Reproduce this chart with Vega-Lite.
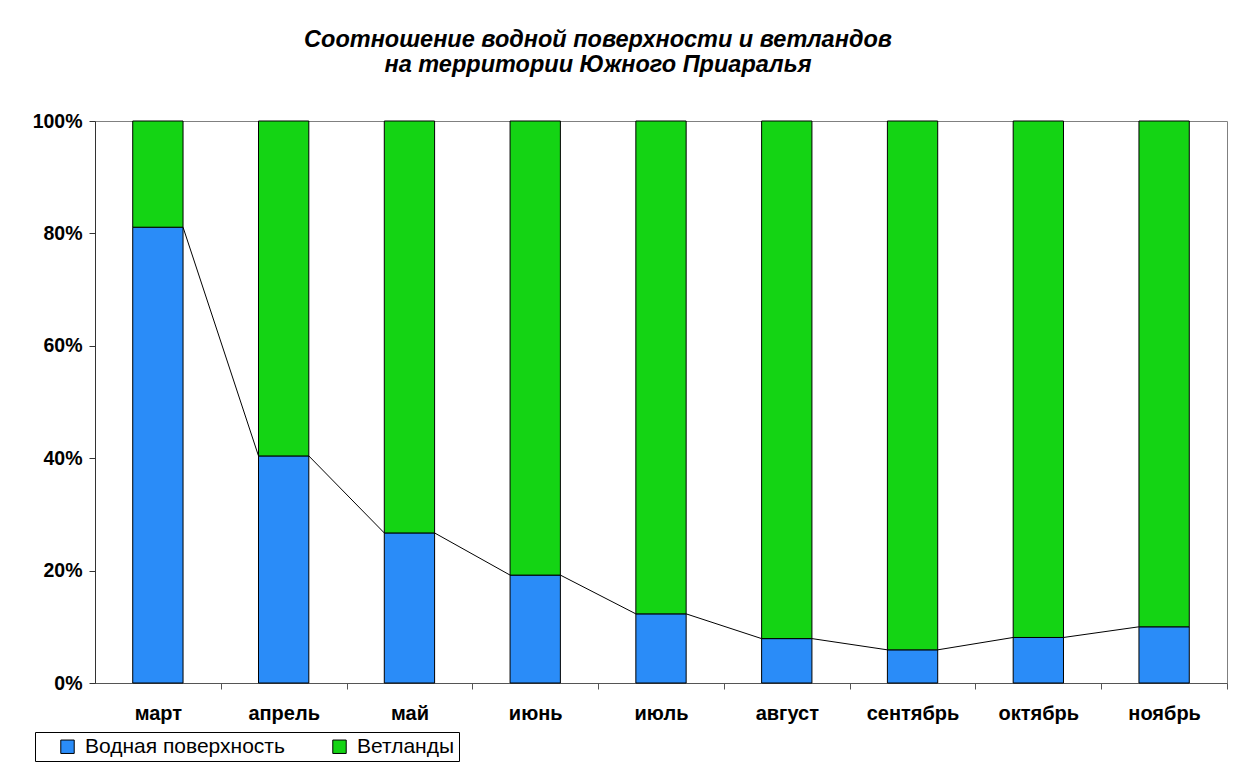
{
  "$schema": "https://vega.github.io/schema/vega-lite/v6.json",
  "width": 1132,
  "height": 562,
  "autosize": {"type": "none"},
  "padding": {"left": 95, "top": 121, "right": 8, "bottom": 82},
  "background": "white",
  "title": {
    "text": ["Соотношение водной поверхности и ветландов", "на территории Южного Приаралья"],
    "font": "Liberation Sans",
    "fontSize": 23.5,
    "fontStyle": "italic",
    "fontWeight": "bold",
    "color": "black",
    "lineHeight": 25,
    "offset": 35,
    "dx": -63
  },
  "datasets": {
    "bars": [
      {"month": "март", "series": "Водная поверхность", "ord": 1, "value": 0.811},
      {"month": "март", "series": "Ветланды", "ord": 2, "value": 0.189},
      {"month": "апрель", "series": "Водная поверхность", "ord": 1, "value": 0.404},
      {"month": "апрель", "series": "Ветланды", "ord": 2, "value": 0.596},
      {"month": "май", "series": "Водная поверхность", "ord": 1, "value": 0.267},
      {"month": "май", "series": "Ветланды", "ord": 2, "value": 0.733},
      {"month": "июнь", "series": "Водная поверхность", "ord": 1, "value": 0.192},
      {"month": "июнь", "series": "Ветланды", "ord": 2, "value": 0.808},
      {"month": "июль", "series": "Водная поверхность", "ord": 1, "value": 0.123},
      {"month": "июль", "series": "Ветланды", "ord": 2, "value": 0.877},
      {"month": "август", "series": "Водная поверхность", "ord": 1, "value": 0.079},
      {"month": "август", "series": "Ветланды", "ord": 2, "value": 0.921},
      {"month": "сентябрь", "series": "Водная поверхность", "ord": 1, "value": 0.059},
      {"month": "сентябрь", "series": "Ветланды", "ord": 2, "value": 0.941},
      {"month": "октябрь", "series": "Водная поверхность", "ord": 1, "value": 0.081},
      {"month": "октябрь", "series": "Ветланды", "ord": 2, "value": 0.919},
      {"month": "ноябрь", "series": "Водная поверхность", "ord": 1, "value": 0.100},
      {"month": "ноябрь", "series": "Ветланды", "ord": 2, "value": 0.900}
    ],
    "links": [
      {"from": "март", "to": "апрель", "y1": 0.811, "y2": 0.404},
      {"from": "апрель", "to": "май", "y1": 0.404, "y2": 0.267},
      {"from": "май", "to": "июнь", "y1": 0.267, "y2": 0.192},
      {"from": "июнь", "to": "июль", "y1": 0.192, "y2": 0.123},
      {"from": "июль", "to": "август", "y1": 0.123, "y2": 0.079},
      {"from": "август", "to": "сентябрь", "y1": 0.079, "y2": 0.059},
      {"from": "сентябрь", "to": "октябрь", "y1": 0.059, "y2": 0.081},
      {"from": "октябрь", "to": "ноябрь", "y1": 0.081, "y2": 0.100}
    ]
  },
  "layer": [
    {
      "data": {"name": "bars"},
      "mark": {"type": "bar", "stroke": "black", "strokeWidth": 1},
      "encoding": {
        "x": {
          "field": "month", "type": "nominal", "sort": null,
          "scale": {"paddingInner": 0.6, "paddingOuter": 0.3},
          "axis": {
            "title": null, "labelAngle": 0, "labelFont": "Liberation Sans", "labelFontSize": 20,
            "labelFontWeight": "bold", "labelColor": "black", "labelPadding": 14,
            "tickOffset": 62.9, "labelOffset": -62.9, "tickSize": 6, "tickColor": "#555", "domainColor": "#555"
          }
        },
        "y": {
          "field": "value", "type": "quantitative", "stack": "zero",
          "scale": {"domain": [0, 1], "nice": false},
          "axis": {
            "title": null, "format": ".0%", "values": [0, 0.2, 0.4, 0.6, 0.8, 1],
            "grid": false, "labelFont": "Liberation Sans", "labelFontSize": 19.5,
            "labelFontWeight": "bold", "labelColor": "black", "labelPadding": 7,
            "tickSize": 6, "tickColor": "#333", "domainColor": "#333"
          }
        },
        "order": {"field": "ord", "type": "quantitative"},
        "color": {
          "field": "series", "type": "nominal",
          "scale": {"domain": ["Водная поверхность", "Ветланды"], "range": ["#2a8cf8", "#14d414"]},
          "legend": {
            "title": " ", "titleOrient": "left", "titleFontSize": 1, "titlePadding": 18,
            "orient": "none", "legendX": -60, "legendY": 611,
            "direction": "horizontal", "symbolType": "square", "symbolSize": 180,
            "symbolStrokeColor": "black", "symbolStrokeWidth": 1, "symbolOpacity": 1,
            "labelFont": "Liberation Sans", "labelFontSize": 21, "labelColor": "black",
            "labelOffset": 7, "labelLimit": 0, "strokeColor": "black", "fillColor": "white",
            "padding": 4, "columnPadding": 44
          }
        }
      }
    },
    {
      "data": {"name": "links"},
      "mark": {"type": "rule", "color": "black", "strokeWidth": 1},
      "encoding": {
        "x": {"field": "from", "type": "nominal", "sort": ["март", "апрель", "май", "июнь", "июль", "август", "сентябрь", "октябрь", "ноябрь"], "bandPosition": 1},
        "x2": {"field": "to", "bandPosition": 0},
        "y": {"field": "y1", "type": "quantitative"},
        "y2": {"field": "y2"}
      }
    }
  ],
  "config": {
    "view": {"stroke": "#808080", "strokeWidth": 1}
  }
}
